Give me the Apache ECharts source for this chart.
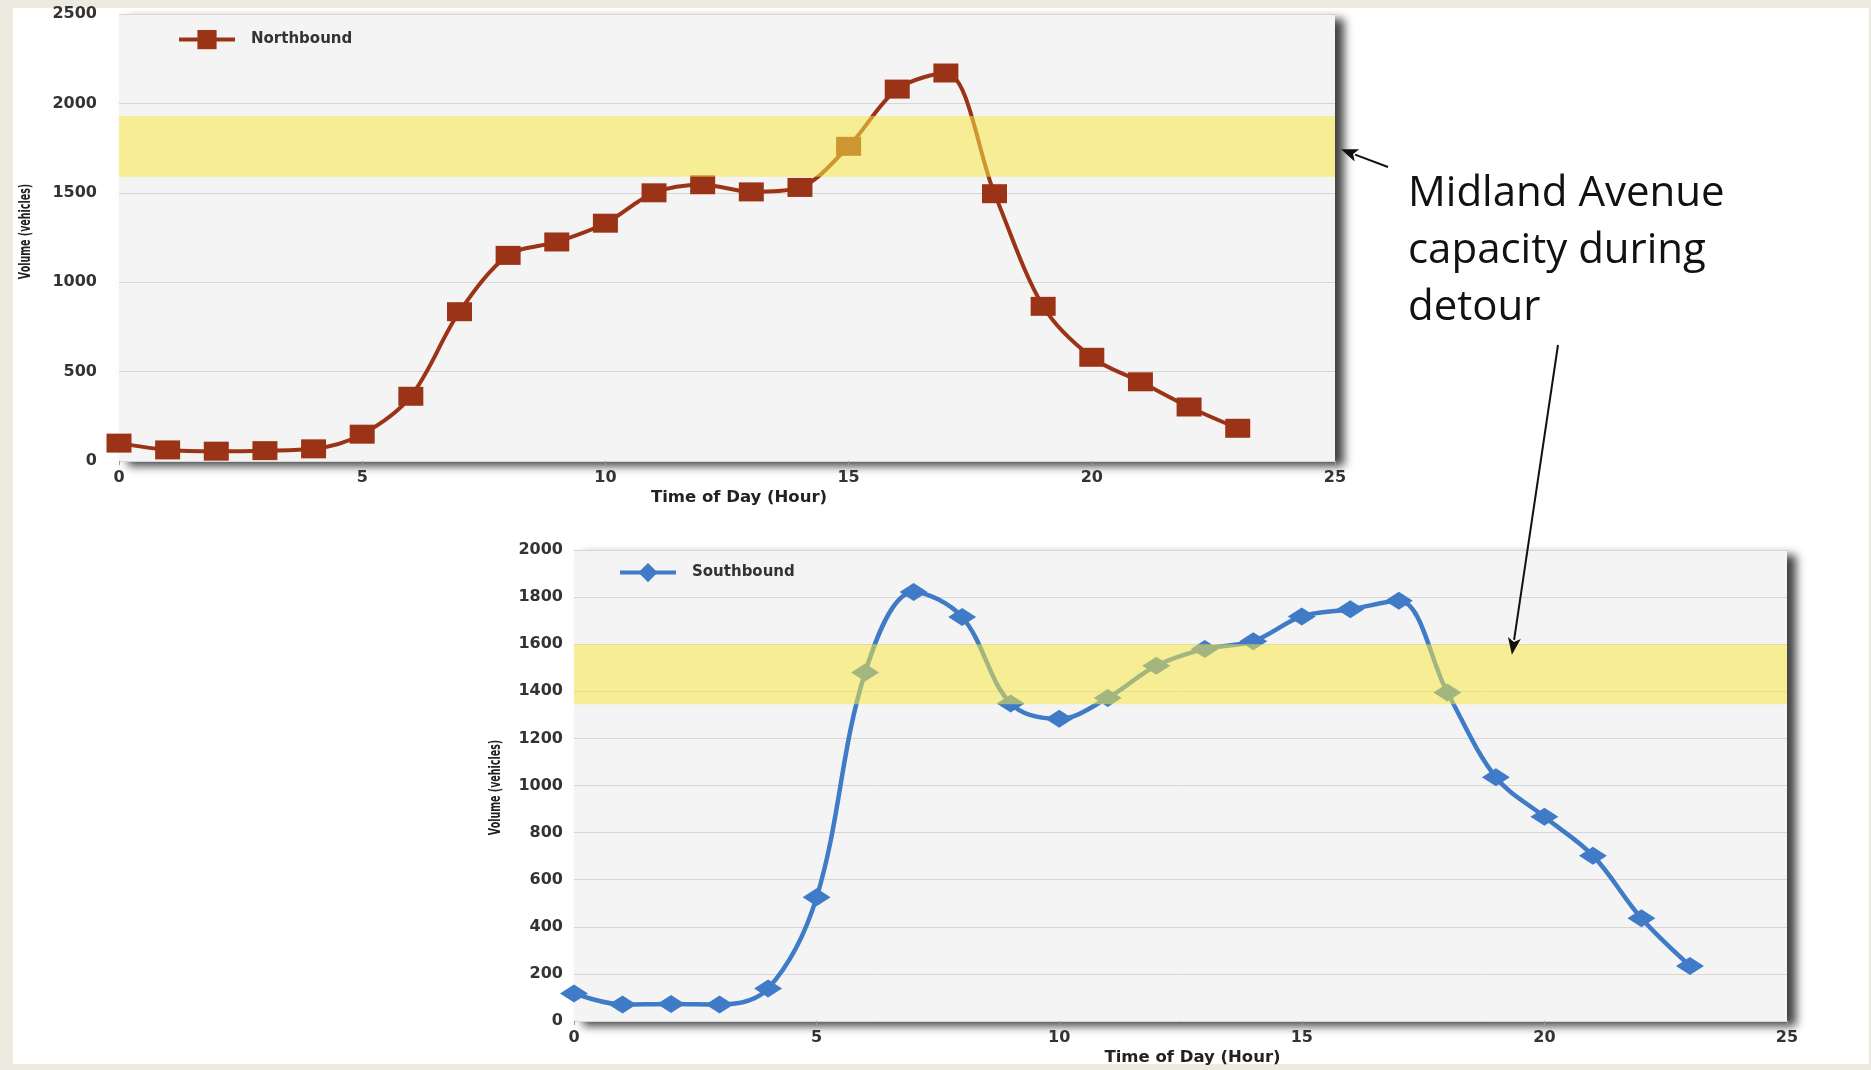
<!DOCTYPE html>
<html>
<head>
<meta charset="utf-8">
<script src="https://cdn.jsdelivr.net/npm/echarts@6/dist/echarts.min.js"></script>
<style>
  html, body { margin: 0; padding: 0; background: #edeadf; }
  #chart { width: 1871px; height: 1070px; }
</style>
</head>
<body>
<div id="chart"></div>
<script>
// Hourly traffic volumes on Midland Avenue
const hours = [0, 1, 2, 3, 4, 5, 6, 7, 8, 9, 10, 11, 12, 13, 14, 15, 16, 17, 18, 19, 20, 21, 22, 23];
const northbound = [100, 62, 55, 58, 68, 150, 362, 835, 1150, 1225, 1330, 1500, 1545, 1505, 1530, 1760, 2080, 2170, 1495, 865, 580, 443, 302, 183];
const southbound = [117, 70, 72, 70, 138, 525, 1480, 1822, 1715, 1348, 1283, 1372, 1508, 1580, 1613, 1718, 1748, 1784, 1395, 1035, 867, 702, 436, 234];

// Capacity range of the detour route for each direction
const northCapacity = [1590, 1930];
const southCapacity = [1345, 1600];

// Axis settings
const hourTicks = { min: 0, max: 25, interval: 5 };
const northTicks = { min: 0, max: 2500, interval: 500 };
const southTicks = { min: 0, max: 2000, interval: 200 };

const volumeTitle = 'Volume (vehicles)';
const annotationLines = ['Midland Avenue', 'capacity during', 'detour'];

const tickFont = "'DejaVu Sans', sans-serif";
const brown = '#9b3417';
const blue = '#3f7bc6';
const bandColor = 'rgba(248, 232, 70, 0.55)';

const chart = echarts.init(document.getElementById('chart'), null, { renderer: 'canvas' });

function gridStyle(pos) {
  return Object.assign({
    show: true,
    backgroundColor: '#f4f4f4',
    borderWidth: 0,
    shadowColor: 'rgba(0, 0, 0, 0.75)',
    shadowBlur: 9,
    shadowOffsetX: 9,
    shadowOffsetY: 5
  }, pos);
}

function xAxisFor(gridIndex) {
  return Object.assign({
    type: 'value',
    gridIndex: gridIndex,
    name: 'Time of Day (Hour)',
    nameLocation: 'middle',
    nameGap: 28,
    nameTextStyle: { fontFamily: tickFont, fontWeight: 'bold', fontSize: 16.5, color: '#222', padding: [0, 0, 0, 24] },
    axisLine: { show: false },
    axisTick: { show: true, length: 4, lineStyle: { color: '#999' } },
    splitLine: { show: false },
    axisLabel: { fontFamily: tickFont, fontWeight: 'bold', fontSize: 16, color: '#333', margin: 9 }
  }, hourTicks);
}

function yAxisFor(gridIndex, ticks, labelMargin) {
  return Object.assign({
    type: 'value',
    gridIndex: gridIndex,
    axisLine: { show: false },
    axisTick: { show: false },
    splitLine: { show: true, lineStyle: { color: '#d6d6d6', width: 1 } },
    axisLabel: {
      fontFamily: tickFont, fontWeight: 'bold', fontSize: 16, color: '#333', margin: labelMargin,
      formatter: (v) => String(v)
    }
  }, ticks);
}

function band(range) {
  return {
    z: 5,
    silent: true,
    itemStyle: { color: bandColor },
    data: [[{ yAxis: range[0] }, { yAxis: range[1] }]]
  };
}

const legendText = { fontFamily: tickFont, fontWeight: 'bold', fontSize: 15, color: '#333', padding: [0, 0, 0, 11] };

chart.setOption({
  animation: false,
  backgroundColor: '#edeadf',
  grid: [
    gridStyle({ left: 119, right: 536, top: 14, bottom: 609 }),
    gridStyle({ left: 574, right: 84, top: 550, bottom: 49 })
  ],
  xAxis: [xAxisFor(0), xAxisFor(1)],
  yAxis: [yAxisFor(0, northTicks, 22), yAxisFor(1, southTicks, 11)],
  legend: [
    {
      data: ['Northbound'], left: 172, top: 25, itemWidth: 56, itemHeight: 24,
      textStyle: legendText, selectedMode: false, lineStyle: { width: 4 }
    },
    {
      data: ['Southbound'], left: 613, top: 558, itemWidth: 56, itemHeight: 24,
      textStyle: legendText, selectedMode: false, lineStyle: { width: 4 }
    }
  ],
  series: [
    {
      name: 'Northbound',
      type: 'line',
      xAxisIndex: 0,
      yAxisIndex: 0,
      smooth: 0.32,
      symbol: 'rect',
      symbolSize: [25, 19],
      lineStyle: { color: brown, width: 4 },
      itemStyle: { color: brown },
      data: hours.map((h, i) => [h, northbound[i]]),
      markArea: band(northCapacity)
    },
    {
      name: 'Southbound',
      type: 'line',
      xAxisIndex: 1,
      yAxisIndex: 1,
      smooth: 0.35,
      symbol: 'diamond',
      symbolSize: [28, 18],
      lineStyle: { color: blue, width: 4.5 },
      itemStyle: { color: blue },
      data: hours.map((h, i) => [h, southbound[i]]),
      markArea: band(southCapacity)
    }
  ]
});

// Condensed vertical axis titles, placed beside each plot
function volumeTitleAt(gridIndex, ticks, gap, shiftY) {
  const p = chart.convertToPixel({ gridIndex: gridIndex }, [0, (ticks.min + ticks.max) / 2]);
  return {
    type: 'text', z: 50, silent: true,
    x: p[0] - gap, y: p[1] + shiftY,
    rotation: Math.PI / 2,
    scaleX: 0.66,
    style: {
      x: 0, y: 0,
      text: volumeTitle,
      font: "bold 16px 'DejaVu Sans Condensed', 'DejaVu Sans', sans-serif",
      fill: '#222',
      align: 'center',
      verticalAlign: 'middle'
    }
  };
}

// Annotation text and its two pointer arrows
const textLeft = 1408;
const textTop = 166;
const lineHeight = 57;

function arrowElements(from, to) {
  const dx = to[0] - from[0], dy = to[1] - from[1];
  const len = Math.sqrt(dx * dx + dy * dy);
  const ux = dx / len, uy = dy / len;
  const headLen = 17, headHalf = 6.5;
  const bx = to[0] - ux * headLen, by = to[1] - uy * headLen;
  return [
    {
      type: 'line', z: 100, silent: true,
      shape: { x1: from[0], y1: from[1], x2: bx + ux * 2, y2: by + uy * 2 },
      style: { stroke: '#111', lineWidth: 2 }
    },
    {
      type: 'polygon', z: 100, silent: true,
      shape: { points: [[to[0], to[1]], [bx - uy * headHalf, by + ux * headHalf], [bx + ux * 4, by + uy * 4], [bx + uy * headHalf, by - ux * headHalf]] },
      style: { fill: '#111' }
    }
  ];
}

const northBandMid = (northCapacity[0] + northCapacity[1]) / 2;
const headNorth = chart.convertToPixel({ gridIndex: 0 }, [hourTicks.max, northBandMid]);
const headSouth = chart.convertToPixel({ gridIndex: 1 }, [19.33, 1555]);

const elements = [
  {
    type: 'rect', z: -100, silent: true,
    shape: { x: 13, y: 8, width: 1856, height: 1056 },
    style: { fill: '#ffffff' }
  },
  volumeTitleAt(0, northTicks, 93, -6),
  volumeTitleAt(1, southTicks, 78, 2),
  {
    type: 'text', z: 100, silent: true,
    style: {
      x: textLeft, y: textTop,
      text: annotationLines.join('\n'),
      font: "42px 'Open Sans', 'Noto Sans', sans-serif",
      lineHeight: lineHeight,
      fill: '#111',
      verticalAlign: 'top'
    }
  }
].concat(
  arrowElements([textLeft - 20, textTop + 1], [headNorth[0] + 6, headNorth[1] + 3]),
  arrowElements([textLeft + 150, textTop + lineHeight * 3 + 8], headSouth)
);

chart.setOption({ graphic: { elements: elements } });
</script>
</body>
</html>
